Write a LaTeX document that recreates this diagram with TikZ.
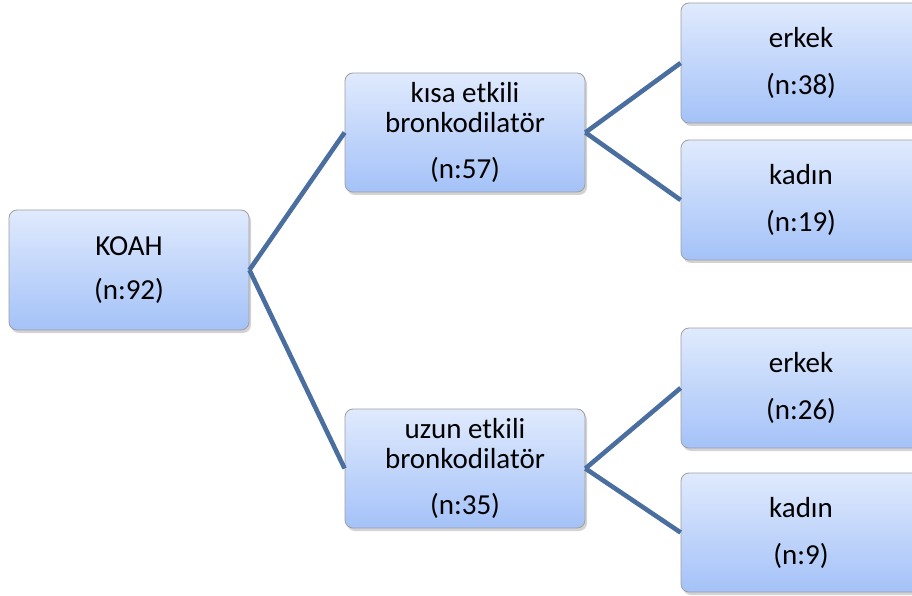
\documentclass[tikz,border=0pt]{standalone}
\usepackage{fontspec}
\setmainfont{Carlito}
\usetikzlibrary{shadows}
\definecolor{boxtop}{HTML}{E0EAFD}
\definecolor{boxbot}{HTML}{A4C2F8}
\definecolor{linkc}{HTML}{4A6EA0}
\tikzset{
  box/.style={draw=gray!75, line width=0.8pt, rounded corners=8pt,
    top color=boxtop, bottom color=boxbot,
    minimum width=240pt, minimum height=120pt, align=center,
    inner sep=0pt, font=\fontsize{29}{30}\selectfont,
    drop shadow={opacity=0.35, shadow xshift=2pt, shadow yshift=-3pt}},
  link/.style={draw=linkc, line width=4.6pt}
}
\begin{document}
\begin{tikzpicture}[x=1pt,y=1pt]
\clip (0,0) rectangle (912,595);
\useasboundingbox (0,0) rectangle (912,595);
\node[box] (koah) at (129,325) {KOAH\\[14pt](n:92)};
\node[box, minimum height=119pt] (kisa) at (465,462.5) {kısa etkili\\bronkodilatör\\[16pt](n:57)};
\node[box, minimum height=119pt] (uzun) at (465,126.5) {uzun etkili\\bronkodilatör\\[16pt](n:35)};
\node[box] (e1) at (801,532) {erkek\\[17pt](n:38)};
\node[box] (k1) at (801,395) {kadın\\[17pt](n:19)};
\node[box] (e2) at (801,207) {erkek\\[17pt](n:26)};
\node[box, minimum height=119pt] (k2) at (801,62.5) {kadın\\[17pt](n:9)};
\draw[link] (koah.east) -- (kisa.west);
\draw[link] (koah.east) -- (uzun.west);
\draw[link] (kisa.east) -- (e1.west);
\draw[link] (kisa.east) -- (k1.west);
\draw[link] (uzun.east) -- (e2.west);
\draw[link] (uzun.east) -- (k2.west);
\end{tikzpicture}
\end{document}
